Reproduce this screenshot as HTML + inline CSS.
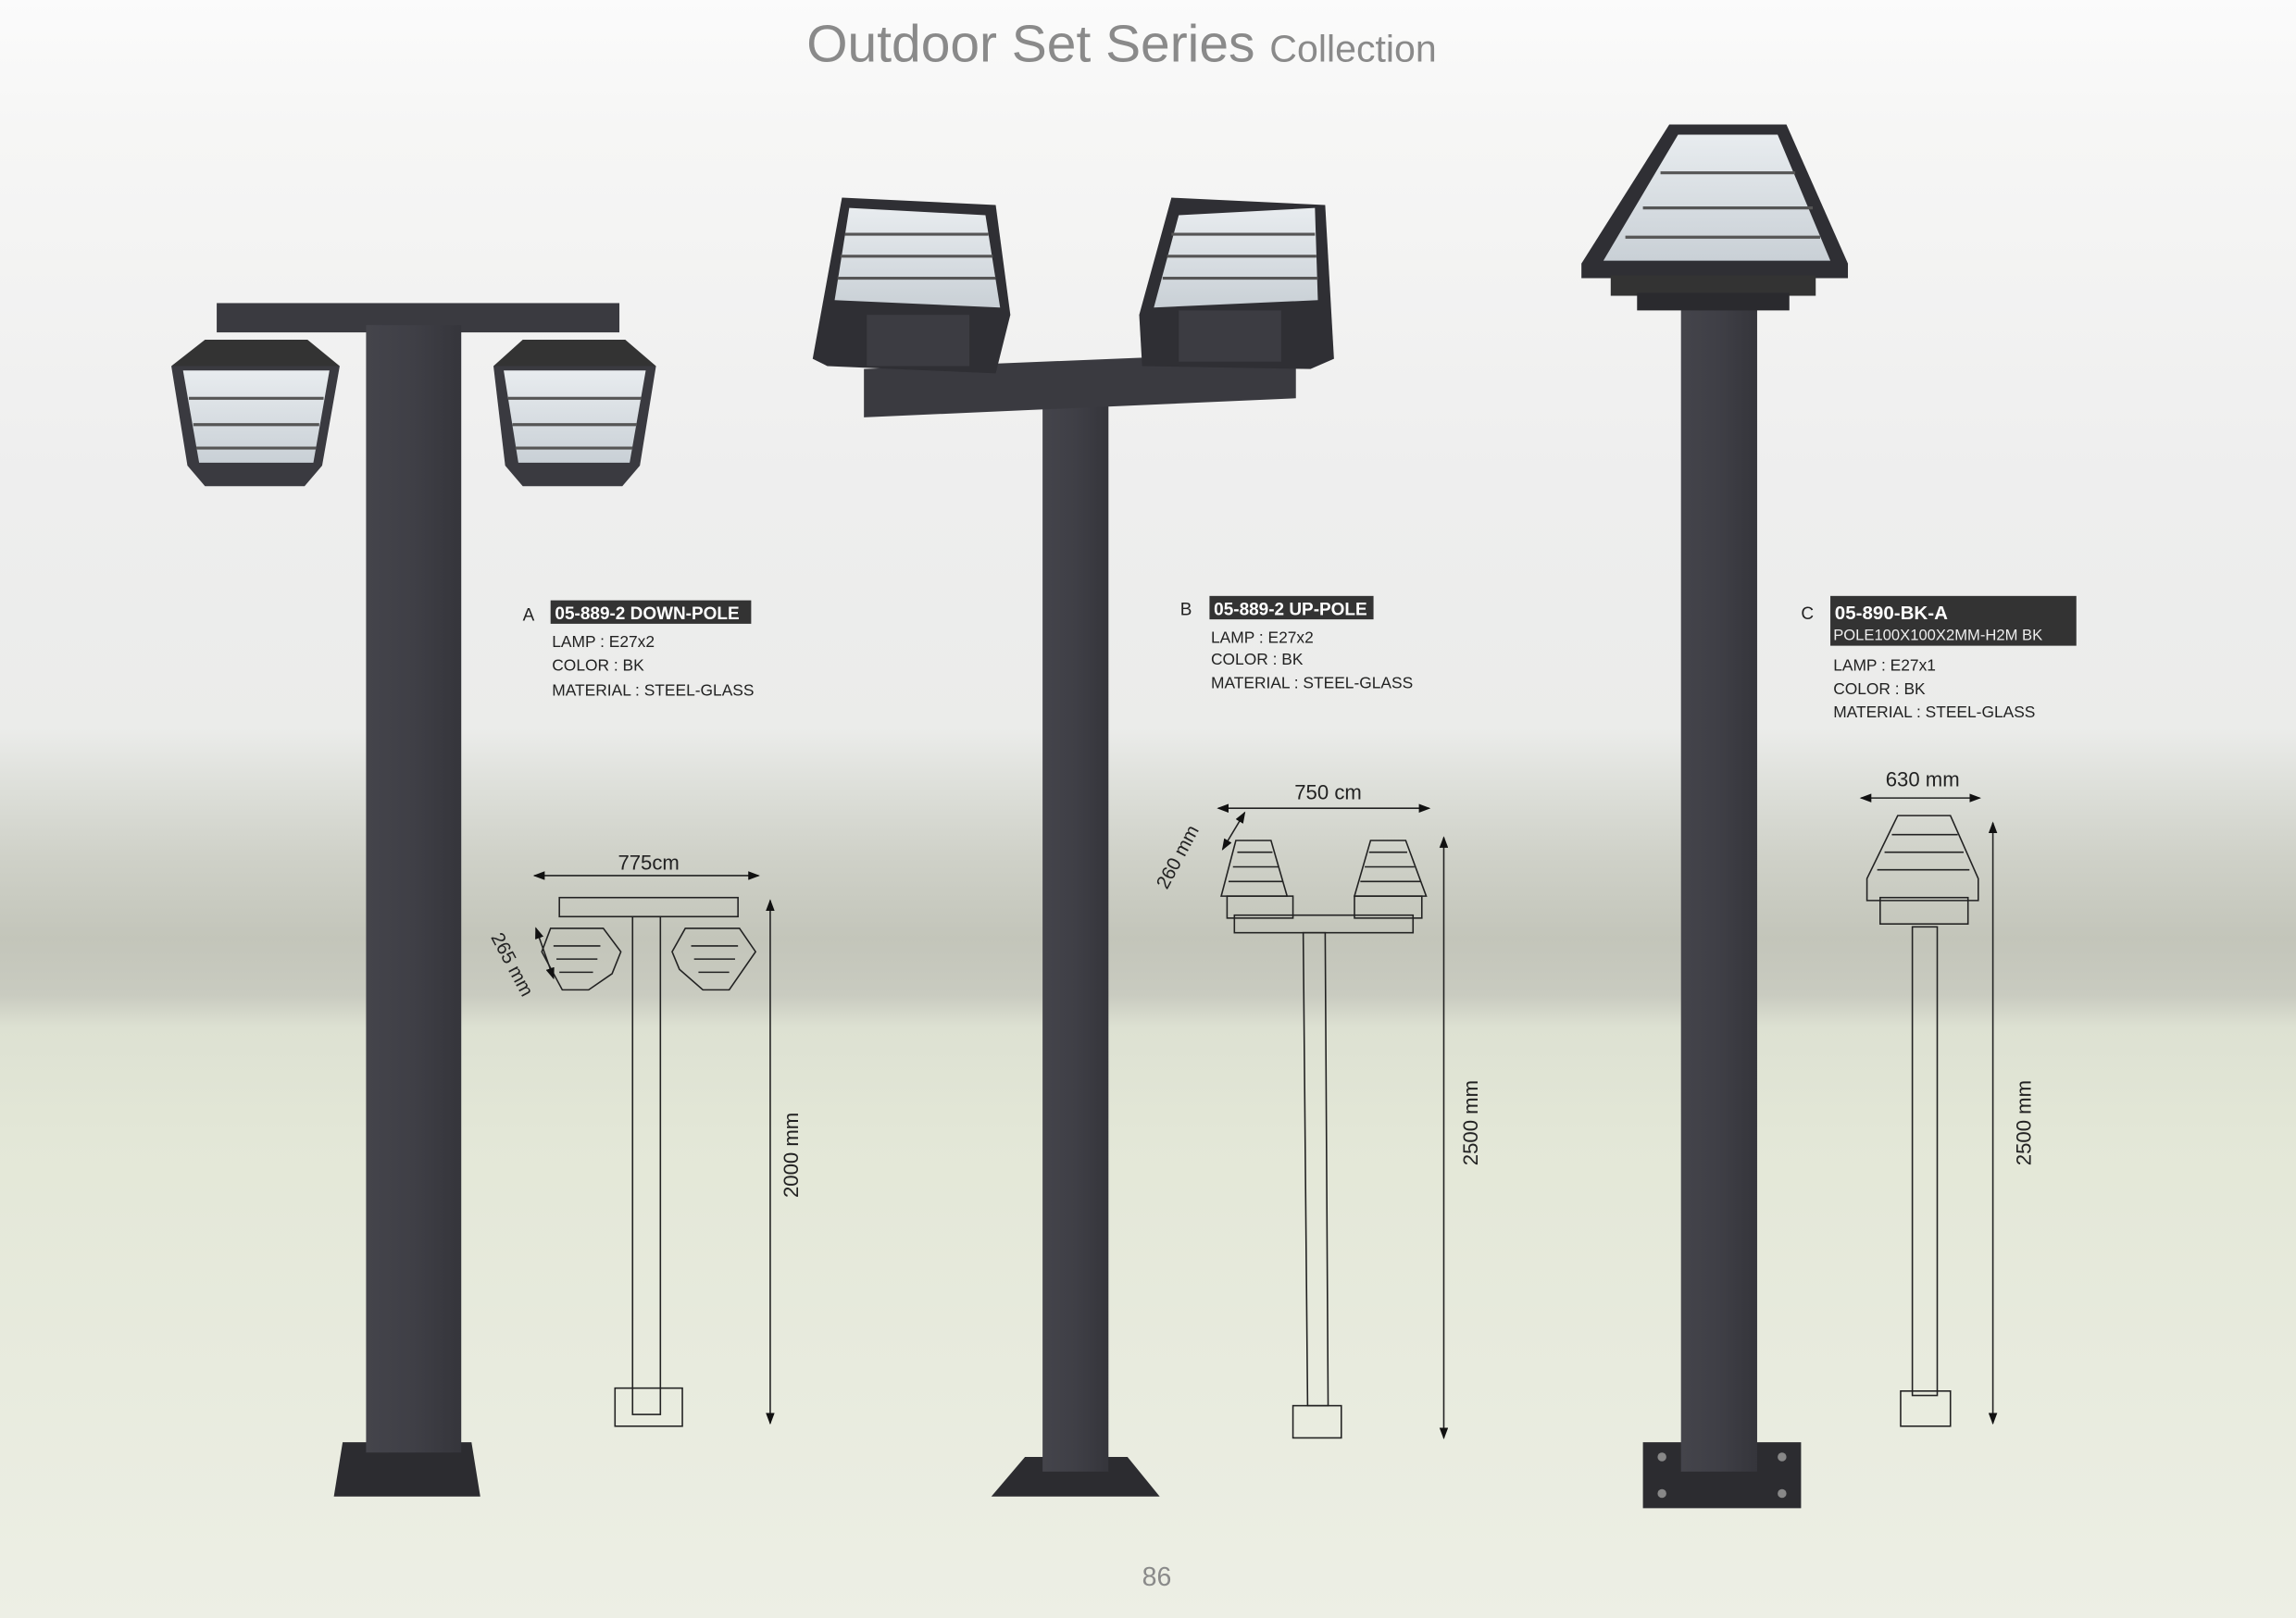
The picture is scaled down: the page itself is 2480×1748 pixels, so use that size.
<!DOCTYPE html>
<html><head><meta charset="utf-8"><style>
html,body{margin:0;padding:0;width:2480px;height:1748px;overflow:hidden;background:#f4f4f2}
svg{display:block}
text{font-family:"Liberation Sans",sans-serif}
</style></head><body>
<svg width="2480" height="1748" viewBox="0 0 1568 1105" preserveAspectRatio="none" xmlns="http://www.w3.org/2000/svg">
<defs>
<linearGradient id="bg" x1="0" y1="0" x2="0" y2="1">
<stop offset="0" stop-color="#fbfbfb"/>
<stop offset="0.08" stop-color="#f6f6f5"/>
<stop offset="0.30" stop-color="#eeeeee"/>
<stop offset="0.45" stop-color="#ebecea"/>
<stop offset="0.49" stop-color="#dcded8"/>
<stop offset="0.53" stop-color="#cfd1c8"/>
<stop offset="0.58" stop-color="#c3c5ba"/>
<stop offset="0.615" stop-color="#c9cbc0"/>
<stop offset="0.635" stop-color="#dde1d2"/>
<stop offset="0.70" stop-color="#e3e7d7"/>
<stop offset="1" stop-color="#edefe5"/>
</linearGradient>
<linearGradient id="pole" x1="0" x2="1">
<stop offset="0" stop-color="#44444b"/><stop offset="0.5" stop-color="#3f3f46"/><stop offset="1" stop-color="#35353b"/>
</linearGradient>
<linearGradient id="glass" x1="0" y1="0" x2="0" y2="1">
<stop offset="0" stop-color="#e8ecef"/><stop offset="1" stop-color="#c9d0d6"/>
</linearGradient>
<marker id="ar" markerWidth="8" markerHeight="6" refX="7" refY="3" orient="auto-start-reverse" markerUnits="userSpaceOnUse"><path d="M0,0 L8,3 L0,6z" fill="#111"/></marker>
</defs>
<rect width="1568" height="1105" fill="url(#bg)"/>

<text x="766" y="42" text-anchor="middle" font-size="36" fill="#8a8a8a" font-weight="300">Outdoor Set Series <tspan font-size="26">Collection</tspan></text>

<!-- Pole A -->
<rect x="148" y="207" width="275" height="20" fill="#3a3a40"/>
<polygon points="228,1022 328,1022 322,985 234,985" fill="#2c2c30"/>
<rect x="250" y="222" width="65" height="770" fill="url(#pole)"/>
<g>
<polygon points="117,250 232,250 220,318 208,332 140,332 128,318" fill="#3a3a40"/>
<polygon points="125,253 225,253 214,316 136,316" fill="url(#glass)"/>
<path d="M129,272 H221 M132,290 H218 M134,306 H216" stroke="#555" stroke-width="2"/>
<polygon points="140,232 210,232 232,250 117,250" fill="#333"/>
</g>
<g>
<polygon points="337,250 448,250 437,318 425,332 357,332 345,318" fill="#3a3a40"/>
<polygon points="344,253 441,253 430,316 354,316" fill="url(#glass)"/>
<path d="M347,272 H438 M350,290 H435 M352,306 H432" stroke="#555" stroke-width="2"/>
<polygon points="357,232 427,232 448,250 337,250" fill="#333"/>
</g>

<!-- Pole B -->
<polygon points="677,1022 792,1022 770,995 700,995" fill="#2c2c30"/>
<rect x="712" y="270" width="45" height="735" fill="url(#pole)"/>
<polygon points="590,252 885,240 885,272 590,285" fill="#3a3a40"/>
<g>
<polygon points="575,135 680,140 690,215 680,255 565,250 555,245" fill="#2f2f34"/>
<polygon points="580,142 673,147 683,210 570,205" fill="url(#glass)"/>
<path d="M577,160 H675 M574,175 H678 M572,190 H680" stroke="#555" stroke-width="2"/>
<rect x="592" y="215" width="70" height="35" fill="#3c3c42"/>
</g>
<g>
<polygon points="800,135 905,140 911,245 895,252 780,250 778,215" fill="#2f2f34"/>
<polygon points="805,147 898,142 900,205 788,210" fill="url(#glass)"/>
<path d="M800,160 H898 M797,175 H899 M794,190 H900" stroke="#555" stroke-width="2"/>
<rect x="805" y="212" width="70" height="35" fill="#3c3c42"/>
</g>

<!-- Pole C -->
<polygon points="1122,985 1230,985 1230,1030 1122,1030" fill="#2c2c30"/>
<circle cx="1135" cy="995" r="3" fill="#888"/><circle cx="1217" cy="995" r="3" fill="#888"/><circle cx="1135" cy="1020" r="3" fill="#888"/><circle cx="1217" cy="1020" r="3" fill="#888"/>
<rect x="1148" y="205" width="52" height="800" fill="url(#pole)"/>
<polygon points="1140,85 1220,85 1262,180 1262,190 1080,190 1080,180" fill="#2f2f34"/>
<polygon points="1146,92 1214,92 1250,178 1095,178" fill="url(#glass)"/>
<path d="M1134,118 H1226 M1122,142 H1238 M1110,162 H1243" stroke="#555" stroke-width="2"/>
<rect x="1100" y="188" width="140" height="14" fill="#333"/>
<rect x="1118" y="200" width="104" height="12" fill="#2a2a2e"/>

<!-- Labels -->
<g font-size="12" fill="#222">
<text x="357" y="424">A</text>
<rect x="376" y="410" width="137" height="16" fill="#333"/>
<text x="379" y="423" fill="#fff" font-weight="bold" font-size="12">05-889-2 DOWN-POLE</text>
<text x="377" y="442" font-size="11">LAMP : E27x2</text>
<text x="377" y="458" font-size="11">COLOR : BK</text>
<text x="377" y="475" font-size="11">MATERIAL : STEEL-GLASS</text>

<text x="806" y="420">B</text>
<rect x="826" y="407" width="112" height="16" fill="#333"/>
<text x="829" y="420" fill="#fff" font-weight="bold">05-889-2 UP-POLE</text>
<text x="827" y="439" font-size="11">LAMP : E27x2</text>
<text x="827" y="454" font-size="11">COLOR : BK</text>
<text x="827" y="470" font-size="11">MATERIAL : STEEL-GLASS</text>

<text x="1230" y="423">C</text>
<rect x="1250" y="407" width="168" height="34" fill="#333"/>
<text x="1253" y="423" fill="#fff" font-weight="bold" font-size="13">05-890-BK-A</text>
<text x="1252" y="437" fill="#eee" font-size="10.5">POLE100X100X2MM-H2M BK</text>
<text x="1252" y="458" font-size="11">LAMP : E27x1</text>
<text x="1252" y="474" font-size="11">COLOR : BK</text>
<text x="1252" y="490" font-size="11">MATERIAL : STEEL-GLASS</text>
</g>

<!-- Drawing A -->
<g stroke="#222" fill="none" stroke-width="1">
<line x1="365" y1="598" x2="518" y2="598" marker-start="url(#ar)" marker-end="url(#ar)"/>
<rect x="382" y="613" width="122" height="13"/>
<rect x="432" y="626" width="19" height="340"/>
<rect x="420" y="948" width="46" height="26"/>
<polygon points="376,634 412,634 424,650 418,665 402,676 384,676 370,650"/>
<path d="M378,646 H410 M380,655 H408 M382,664 H405"/>
<polygon points="468,634 505,634 516,650 498,676 480,676 464,662 459,650"/>
<path d="M472,646 H504 M474,655 H502 M477,664 H498"/>
<line x1="366" y1="634" x2="378" y2="668" marker-start="url(#ar)" marker-end="url(#ar)"/>
<line x1="526" y1="615" x2="526" y2="972" marker-start="url(#ar)" marker-end="url(#ar)"/>
</g>
<text x="443" y="594" font-size="14" text-anchor="middle" fill="#222">775cm</text>
<text transform="translate(335,640) rotate(62)" font-size="13" fill="#222">265 mm</text>
<text transform="translate(545,818) rotate(-90)" font-size="14" fill="#222">2000 mm</text>

<!-- Drawing B -->
<g stroke="#222" fill="none" stroke-width="1">
<line x1="832" y1="552" x2="976" y2="552" marker-start="url(#ar)" marker-end="url(#ar)"/>
<polygon points="844,574 868,574 879,612 834,612"/>
<path d="M845,582 H869 M842,592 H873 M839,602 H876"/>
<rect x="838" y="612" width="45" height="15"/>
<polygon points="936,574 960,574 974,612 925,612"/>
<path d="M935,582 H961 M932,592 H966 M929,602 H970"/>
<rect x="925" y="612" width="46" height="15"/>
<rect x="843" y="625" width="122" height="12"/>
<polygon points="890,637 905,637 907,960 893,960"/>
<rect x="883" y="960" width="33" height="22"/>
<line x1="835" y1="580" x2="850" y2="555" marker-start="url(#ar)" marker-end="url(#ar)"/>
<line x1="986" y1="572" x2="986" y2="982" marker-start="url(#ar)" marker-end="url(#ar)"/>
</g>
<text x="907" y="546" font-size="14" text-anchor="middle" fill="#222">750 cm</text>
<text transform="translate(797,608) rotate(-62)" font-size="13" fill="#222">260 mm</text>
<text transform="translate(1009,796) rotate(-90)" font-size="14" fill="#222">2500 mm</text>

<!-- Drawing C -->
<g stroke="#222" fill="none" stroke-width="1">
<line x1="1271" y1="545" x2="1352" y2="545" marker-start="url(#ar)" marker-end="url(#ar)"/>
<polygon points="1296,557 1332,557 1351,600 1351,615 1275,615 1275,600"/>
<path d="M1292,570 H1337 M1287,582 H1341 M1282,594 H1345"/>
<rect x="1284" y="613" width="60" height="18"/>
<rect x="1306" y="633" width="17" height="320"/>
<rect x="1298" y="950" width="34" height="24"/>
<line x1="1361" y1="562" x2="1361" y2="972" marker-start="url(#ar)" marker-end="url(#ar)"/>
</g>
<text x="1313" y="537" font-size="14" text-anchor="middle" fill="#222">630 mm</text>
<text transform="translate(1387,796) rotate(-90)" font-size="14" fill="#222">2500 mm</text>

<text x="790" y="1083" font-size="18" text-anchor="middle" fill="#8a8a8a">86</text>
</svg>
</body></html>
